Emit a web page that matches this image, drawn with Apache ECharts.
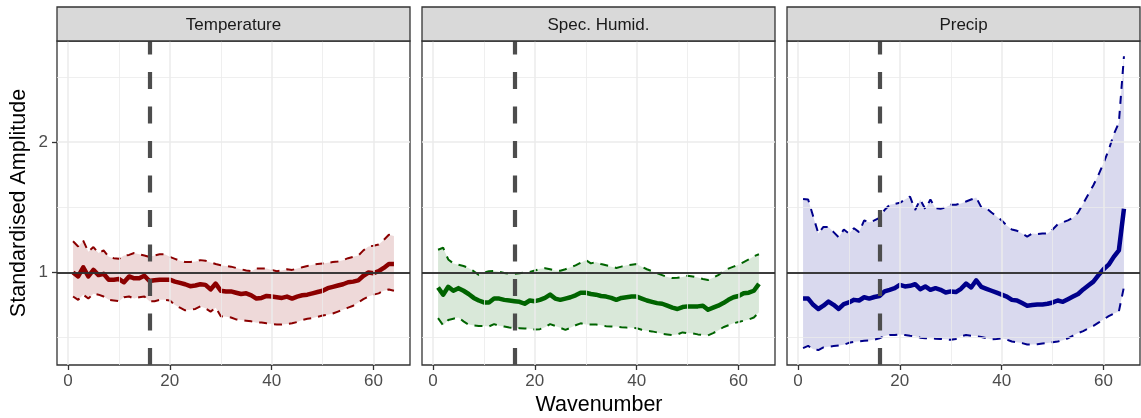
<!DOCTYPE html>
<html>
<head>
<meta charset="utf-8">
<script src="https://cdn.jsdelivr.net/npm/echarts@6/dist/echarts.min.js"></script>
<style>
  html, body { margin: 0; padding: 0; background: #ffffff; }
  #chart { width: 1141px; height: 418px; }
</style>
</head>
<body>
<div id="chart"></div>
<script>
// Wavenumbers on the x axis
const wavenumber = [1,2,3,4,5,6,7,8,9,10,11,12,13,14,15,16,17,18,19,20,21,22,23,24,25,26,27,28,29,30,31,32,
  33,34,35,36,37,38,39,40,41,42,43,44,45,46,47,48,49,50,51,52,53,54,55,56,57,58,59,60,61,62,63,64];

// Temperature: mean standardised amplitude and its envelope
const tempMean = [1.00,0.97,1.04,0.97,1.02,0.98,0.99,0.945,0.945,0.95,0.925,0.97,0.955,0.955,0.975,0.935,
  0.94,0.945,0.945,0.945,0.93,0.92,0.91,0.895,0.90,0.91,0.905,0.87,0.915,0.86,0.855,0.855,
  0.845,0.835,0.84,0.825,0.80,0.805,0.82,0.815,0.81,0.805,0.815,0.80,0.815,0.825,0.83,0.84,
  0.85,0.86,0.88,0.89,0.90,0.91,0.925,0.93,0.94,0.975,1.00,0.995,1.01,1.035,1.065,1.065];
const tempUpper = [1.24,1.20,1.245,1.16,1.195,1.15,1.17,1.12,1.11,1.105,1.13,1.135,1.15,1.14,1.13,1.12,
  1.13,1.14,1.14,1.12,1.105,1.09,1.08,1.08,1.085,1.095,1.09,1.077,1.065,1.055,1.05,1.045,
  1.035,1.025,1.015,1.01,1.03,1.03,1.03,1.02,1.01,1.015,1.025,1.02,1.03,1.04,1.05,1.06,
  1.065,1.07,1.075,1.08,1.085,1.095,1.11,1.12,1.13,1.17,1.20,1.205,1.215,1.25,1.29,1.28];
const tempLower = [0.816,0.79,0.83,0.80,0.837,0.83,0.816,0.79,0.785,0.78,0.81,0.816,0.80,0.81,0.816,0.78,
  0.78,0.79,0.79,0.785,0.75,0.73,0.71,0.715,0.72,0.74,0.725,0.70,0.73,0.665,0.66,0.655,
  0.64,0.635,0.63,0.625,0.615,0.617,0.61,0.605,0.60,0.60,0.605,0.61,0.62,0.635,0.645,0.65,
  0.66,0.67,0.675,0.685,0.70,0.715,0.73,0.745,0.77,0.795,0.815,0.83,0.84,0.86,0.87,0.86];

// Specific humidity
const specMean = [0.885,0.83,0.89,0.86,0.88,0.86,0.835,0.805,0.785,0.77,0.77,0.80,0.80,0.79,0.785,0.78,
  0.775,0.76,0.785,0.78,0.79,0.805,0.83,0.80,0.79,0.80,0.81,0.825,0.845,0.845,0.835,0.83,
  0.82,0.815,0.805,0.79,0.805,0.81,0.815,0.815,0.80,0.785,0.775,0.765,0.76,0.745,0.73,0.72,
  0.735,0.74,0.74,0.74,0.745,0.714,0.73,0.745,0.765,0.79,0.81,0.82,0.84,0.845,0.86,0.913];
const specUpper = [1.175,1.19,1.10,1.07,1.06,1.05,1.035,1.01,0.982,1.0,1.01,1.013,1.005,0.997,0.99,0.99,
  0.995,1.0,1.005,1.015,1.028,1.033,1.025,1.015,1.013,1.025,1.04,1.055,1.075,1.095,1.07,1.08,
  1.065,1.055,1.045,1.035,1.045,1.055,1.06,1.065,1.045,1.025,1.01,0.995,0.98,0.965,0.957,0.96,
  0.965,0.975,0.97,0.962,0.95,0.942,0.96,0.98,1.01,1.03,1.045,1.06,1.08,1.10,1.125,1.14];
const specLower = [0.65,0.595,0.635,0.645,0.655,0.625,0.60,0.593,0.59,0.59,0.586,0.604,0.59,0.585,0.578,0.575,
  0.573,0.57,0.568,0.562,0.565,0.58,0.604,0.59,0.575,0.56,0.575,0.595,0.61,0.60,0.60,0.60,
  0.595,0.588,0.586,0.585,0.58,0.577,0.575,0.572,0.56,0.552,0.548,0.54,0.53,0.525,0.52,0.525,
  0.54,0.535,0.532,0.525,0.52,0.517,0.535,0.555,0.58,0.595,0.61,0.62,0.63,0.64,0.655,0.695];

// Precipitation
const precipMean = [0.80,0.80,0.752,0.72,0.745,0.777,0.752,0.72,0.757,0.77,0.79,0.785,0.81,0.80,0.812,0.82,
  0.855,0.867,0.88,0.905,0.893,0.898,0.91,0.872,0.893,0.867,0.88,0.867,0.847,0.855,0.85,0.875,
  0.915,0.885,0.94,0.89,0.875,0.86,0.845,0.83,0.815,0.79,0.785,0.765,0.745,0.75,0.755,0.755,
  0.76,0.77,0.785,0.775,0.795,0.815,0.835,0.87,0.90,0.93,0.98,1.025,1.06,1.12,1.17,1.49];
const precipUpper = [1.565,1.56,1.43,1.30,1.35,1.35,1.31,1.27,1.33,1.30,1.34,1.31,1.40,1.385,1.40,1.42,
  1.48,1.52,1.527,1.535,1.56,1.583,1.48,1.56,1.486,1.56,1.494,1.49,1.50,1.52,1.52,1.53,
  1.545,1.56,1.575,1.50,1.494,1.46,1.43,1.40,1.36,1.33,1.32,1.30,1.276,1.30,1.295,1.30,
  1.30,1.33,1.37,1.385,1.40,1.42,1.46,1.53,1.60,1.67,1.75,1.84,1.94,2.06,2.15,2.66];
const precipLower = [0.42,0.437,0.41,0.405,0.425,0.43,0.435,0.44,0.445,0.46,0.468,0.472,0.476,0.478,0.485,0.495,
  0.512,0.52,0.52,0.525,0.52,0.514,0.51,0.50,0.496,0.496,0.492,0.49,0.487,0.483,0.49,0.51,
  0.52,0.515,0.512,0.505,0.496,0.488,0.49,0.495,0.485,0.47,0.465,0.458,0.447,0.447,0.45,0.455,
  0.458,0.465,0.47,0.48,0.495,0.515,0.535,0.55,0.57,0.59,0.615,0.64,0.665,0.685,0.70,0.89];

// Facet titles and axis ticks
const panelTitles = ['Temperature', 'Spec. Humid.', 'Precip'];
const xTickValues = [0, 20, 40, 60];
const xMinorValues = [10, 30, 50];
const yTickValues = [1, 2];
const yMinorValues = [0.5, 1.5, 2.5];
const referenceLevel = 1;
const cutoffWavenumber = 16;

const panelData = [
  { mean: tempMean, upper: tempUpper, lower: tempLower, color: '#8B0000', fill: 'rgba(139,0,0,0.15)' },
  { mean: specMean, upper: specUpper, lower: specLower, color: '#006400', fill: 'rgba(0,100,0,0.15)' },
  { mean: precipMean, upper: precipUpper, lower: precipLower, color: '#00008B', fill: 'rgba(0,0,139,0.15)' }
];

const FONT = '"Liberation Sans", Arial, Helvetica, sans-serif';
const panelLefts = [57, 422, 787];
const panelWidth = 353;
const panelTop = 41;
const panelHeight = 324;
const stripTop = 7;

const pairs = (ys) => wavenumber.map((w, i) => [w, ys[i]]);

const grids = [], xAxes = [], yAxes = [], series = [], graphics = [];

panelData.forEach((p, k) => {
  grids.push({
    left: panelLefts[k], top: panelTop, width: panelWidth, height: panelHeight,
    show: true, backgroundColor: '#ffffff', borderColor: '#333333', borderWidth: 1.3,
    containLabel: false
  });
  xAxes.push({
    type: 'value', gridIndex: k, min: -2.15, max: 67.15, position: 'bottom',
    axisLine: { show: false, onZero: false },
    splitLine: { show: false },
    axisTick: { show: true, inside: false, customValues: xTickValues, length: 5, lineStyle: { color: '#333333', width: 1.3 } },
    axisLabel: { show: true, customValues: xTickValues, margin: 8, fontSize: 17, color: '#4D4D4D', fontFamily: FONT }
  });
  yAxes.push({
    type: 'value', gridIndex: k, min: 0.29, max: 2.777, position: 'left',
    axisLine: { show: false, onZero: false },
    splitLine: { show: false },
    axisTick: { show: k === 0, inside: false, customValues: yTickValues, length: 5, lineStyle: { color: '#333333', width: 1.3 } },
    axisLabel: { show: k === 0, customValues: yTickValues, margin: 9, fontSize: 17, color: '#4D4D4D', fontFamily: FONT }
  });

  const gridLines = [];
  xTickValues.forEach(v => gridLines.push({ xAxis: v, lineStyle: { color: '#EBEBEB', width: 1.5, type: 'solid' } }));
  xMinorValues.forEach(v => gridLines.push({ xAxis: v, lineStyle: { color: '#EBEBEB', width: 0.8, type: 'solid' } }));
  yTickValues.forEach(v => gridLines.push({ yAxis: v, lineStyle: { color: '#EBEBEB', width: 1.5, type: 'solid' } }));
  yMinorValues.forEach(v => gridLines.push({ yAxis: v, lineStyle: { color: '#EBEBEB', width: 0.8, type: 'solid' } }));

  // Background grid lines (panel.grid)
  series.push({
    type: 'line', xAxisIndex: k, yAxisIndex: k, z: 1, silent: true,
    data: pairs(p.lower), symbol: 'none', lineStyle: { opacity: 0 },
    markLine: { silent: true, symbol: ['none', 'none'], label: { show: false }, animation: false, data: gridLines }
  });

  // Ribbon between lower and upper bound, drawn as one polygon
  series.push({
    type: 'custom', xAxisIndex: k, yAxisIndex: k, z: 2, silent: true, clip: true,
    data: wavenumber.map((w, i) => [w, p.lower[i], p.upper[i]]),
    encode: { x: 0, y: [1, 2] },
    renderItem: (params, api) => {
      if (params.dataIndex !== 0) return null;
      const top = wavenumber.map((w, i) => api.coord([w, p.upper[i]]));
      const bottom = wavenumber.map((w, i) => api.coord([w, p.lower[i]])).reverse();
      return {
        type: 'polygon',
        shape: { points: top.concat(bottom) },
        style: { fill: p.fill, stroke: null }
      };
    }
  });

  // Dashed envelope lines
  [p.upper, p.lower].forEach(b => series.push({
    type: 'line', xAxisIndex: k, yAxisIndex: k, z: 3, silent: true,
    data: pairs(b), symbol: 'none',
    lineStyle: { color: p.color, width: 2, type: [8, 7] }
  }));

  // Mean amplitude
  series.push({
    type: 'line', xAxisIndex: k, yAxisIndex: k, z: 4, silent: true,
    data: pairs(p.mean), symbol: 'none',
    lineStyle: { color: p.color, width: 4.5, join: 'round', cap: 'butt' }
  });

  // Reference level and wavenumber cutoff
  series.push({
    type: 'line', xAxisIndex: k, yAxisIndex: k, z: 5, silent: true,
    data: pairs(p.mean), symbol: 'none', lineStyle: { opacity: 0 },
    markLine: {
      silent: true, symbol: ['none', 'none'], label: { show: false }, animation: false,
      data: [
        { yAxis: referenceLevel, lineStyle: { color: '#000000', width: 1.6, type: 'solid' } },
        { xAxis: cutoffWavenumber, lineStyle: { color: '#4D4D4D', width: 4.2, type: [17, 17.5], cap: 'butt' } }
      ]
    }
  });

  // Facet strip
  graphics.push({
    type: 'rect', z: 10,
    shape: { x: panelLefts[k], y: stripTop, width: panelWidth, height: panelTop - stripTop },
    style: { fill: '#D9D9D9', stroke: '#333333', lineWidth: 1.3 }
  });
  graphics.push({
    type: 'text', z: 11,
    x: panelLefts[k] + panelWidth / 2, y: (stripTop + panelTop) / 2 + 1,
    style: { text: panelTitles[k], fill: '#1A1A1A', font: '17px ' + FONT, align: 'center', verticalAlign: 'middle' }
  });
});

// Axis titles
graphics.push({
  type: 'text', z: 11, x: 599, y: 405,
  style: { text: 'Wavenumber', fill: '#000000', font: '21.5px ' + FONT, align: 'center', verticalAlign: 'middle' }
});
graphics.push({
  type: 'text', z: 11, x: 19, y: 203, rotation: Math.PI / 2,
  style: { text: 'Standardised Amplitude', fill: '#000000', font: '21.5px ' + FONT, align: 'center', verticalAlign: 'middle' }
});

const chart = echarts.init(document.getElementById('chart'), null, { renderer: 'canvas' });
chart.setOption({
  backgroundColor: '#ffffff',
  animation: false,
  grid: grids,
  xAxis: xAxes,
  yAxis: yAxes,
  series: series,
  graphic: graphics
});
</script>
</body>
</html>
